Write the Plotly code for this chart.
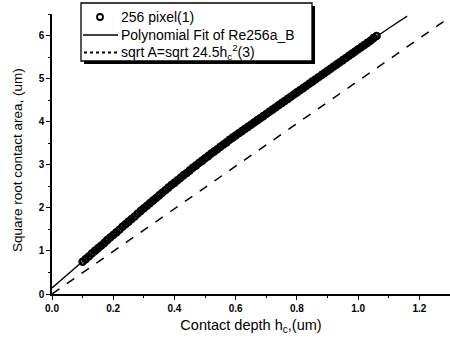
import plotly.graph_objects as go

# Measured data: contact depth hc (um) vs square-root contact area (um)
hc_data = [0.10, 0.11, 0.12, 0.13, 0.14, 0.15, 0.16, 0.17, 0.18, 0.19,
           0.20, 0.21, 0.22, 0.23, 0.24, 0.25, 0.26, 0.27, 0.28, 0.29,
           0.30, 0.31, 0.32, 0.33, 0.34, 0.35, 0.36, 0.37, 0.38, 0.39,
           0.40, 0.41, 0.42, 0.43, 0.44, 0.45, 0.46, 0.47, 0.48, 0.49,
           0.50, 0.51, 0.52, 0.53, 0.54, 0.55, 0.56, 0.57, 0.58, 0.59,
           0.60, 0.61, 0.62, 0.63, 0.64, 0.65, 0.66, 0.67, 0.68, 0.69,
           0.70, 0.71, 0.72, 0.73, 0.74, 0.75, 0.76, 0.77, 0.78, 0.79,
           0.80, 0.81, 0.82, 0.83, 0.84, 0.85, 0.86, 0.87, 0.88, 0.89,
           0.90, 0.91, 0.92, 0.93, 0.94, 0.95, 0.96, 0.97, 0.98, 0.99,
           1.00, 1.01, 1.02, 1.03, 1.04, 1.05, 1.06]
sqrtA_data = [0.75, 0.81, 0.87, 0.94, 1.00, 1.06, 1.12, 1.18, 1.25, 1.31,
              1.37, 1.43, 1.49, 1.56, 1.62, 1.68, 1.74, 1.80, 1.87, 1.93,
              1.99, 2.05, 2.11, 2.17, 2.23, 2.29, 2.35, 2.41, 2.47, 2.53,
              2.58, 2.64, 2.70, 2.76, 2.81, 2.87, 2.93, 2.98, 3.04, 3.09,
              3.15, 3.20, 3.26, 3.31, 3.36, 3.42, 3.47, 3.52, 3.58, 3.63,
              3.68, 3.73, 3.78, 3.83, 3.88, 3.93, 3.98, 4.03, 4.08, 4.13,
              4.18, 4.23, 4.28, 4.33, 4.38, 4.43, 4.48, 4.53, 4.58, 4.63,
              4.68, 4.73, 4.78, 4.83, 4.88, 4.93, 4.98, 5.03, 5.08, 5.13,
              5.18, 5.23, 5.28, 5.33, 5.38, 5.43, 5.48, 5.53, 5.58, 5.63,
              5.68, 5.73, 5.78, 5.83, 5.88, 5.94, 5.99]

# Polynomial fit curve
hc_fit = [0.0, 0.1, 0.2, 0.3, 0.4, 0.5, 0.6, 0.7, 0.8, 0.9, 1.0, 1.1, 1.16]
sqrtA_fit = [0.14, 0.76, 1.37, 1.97, 2.56, 3.13, 3.67, 4.19, 4.70, 5.20, 5.69, 6.17, 6.45]

# Ideal Berkovich: sqrt(24.5) * hc
hc_ideal = [0.0, 1.3]
sqrtA_ideal = [0.0, 6.43]

x_ticks = [0.0, 0.2, 0.4, 0.6, 0.8, 1.0, 1.2]
x_labels = ["0.0", "0.2", "0.4", "0.6", "0.8", "1.0", "1.2"]
y_ticks = [0, 1, 2, 3, 4, 5, 6]

legend_labels = ["256 pixel(1)", "Polynomial Fit of Re256a_B",
                 "sqrt A=sqrt 24.5h<sub>c</sub><sup>2</sup>(3)"]

fig = go.Figure()
fig.add_trace(go.Scatter(
    x=hc_data, y=sqrtA_data, mode="markers", name=legend_labels[0],
    marker=dict(symbol="circle-open", size=6, color="black", line=dict(width=2.6)),
    showlegend=False,
))
fig.add_trace(go.Scatter(
    x=hc_fit, y=sqrtA_fit, mode="lines", name=legend_labels[1],
    line=dict(color="black", width=1.3), showlegend=False,
))
fig.add_trace(go.Scatter(
    x=hc_ideal, y=sqrtA_ideal, mode="lines", name=legend_labels[2],
    line=dict(color="black", width=1.5, dash="dash"), showlegend=False,
))

# ---- hand-built legend box (paper coordinates) ----
W, H, L, T = 398.0, 280.0, 52.0, 14.0
def px(xp):
    return (xp - L) / W
def py(yp):
    return (T + H - yp) / H

shapes = [
    dict(type="rect", xref="paper", yref="paper", x0=px(84), x1=px(315), y0=py(64), y1=py(6),
         fillcolor="black", line=dict(width=0), layer="above"),
    dict(type="rect", xref="paper", yref="paper", x0=px(81), x1=px(312), y0=py(61), y1=py(3),
         fillcolor="white", line=dict(color="black", width=1.3), layer="above"),
    dict(type="circle", xref="paper", yref="paper", x0=px(97), x1=px(103), y0=py(20), y1=py(14),
         fillcolor="white", line=dict(color="black", width=1.8), layer="above"),
    dict(type="line", xref="paper", yref="paper", x0=px(83), x1=px(118), y0=py(35), y1=py(35),
         line=dict(color="black", width=1.3), layer="above"),
    dict(type="line", xref="paper", yref="paper", x0=px(84), x1=px(118), y0=py(52.5), y1=py(52.5),
         line=dict(color="black", width=1.8, dash="dot"), layer="above"),
]
row_y = [17, 35, 52]
annotations = [
    dict(text=lab, xref="paper", yref="paper", x=px(119), y=py(yy), xanchor="left", yanchor="middle",
         showarrow=False, font=dict(size=14)) for lab, yy in zip(legend_labels, row_y)
]
annotations.append(dict(text="Square root contact area, (um)", xref="paper", yref="paper",
                        x=px(18), y=py(160), textangle=-90, showarrow=False,
                        xanchor="center", yanchor="middle", font=dict(size=13.5)))

font_family = "Liberation Sans, Arial, sans-serif"
fig.update_layout(
    width=450, height=339,
    margin=dict(l=52, r=0, t=14, b=45),
    paper_bgcolor="white", plot_bgcolor="white",
    font=dict(family=font_family, color="black", size=12),
    showlegend=False,
    shapes=shapes,
    annotations=annotations,
    xaxis=dict(
        range=[0, 1.3], tickvals=x_ticks, ticktext=x_labels,
        showline=True, linecolor="black", linewidth=1.5,
        ticks="outside", ticklen=4, tickwidth=1.2, tickcolor="black",
        minor=dict(ticks="outside", ticklen=2, dtick=0.1, tickcolor="black"),
        showgrid=False, zeroline=False,
        tickfont=dict(size=10, family="Liberation Sans, Arial", weight="bold"),
        title=dict(text="Contact depth h<sub>c</sub>,(um)", font=dict(size=14.5), standoff=7),
    ),
    yaxis=dict(
        range=[0, 6.5], tickvals=y_ticks,
        showline=True, linecolor="black", linewidth=1.5,
        ticks="outside", ticklen=4, tickwidth=1.2, tickcolor="black",
        minor=dict(ticks="outside", ticklen=2, dtick=0.5, tickcolor="black"),
        showgrid=False, zeroline=False,
        tickfont=dict(size=10, family="Liberation Sans, Arial", weight="bold"),
    ),
)

fig.write_html("out.html")
